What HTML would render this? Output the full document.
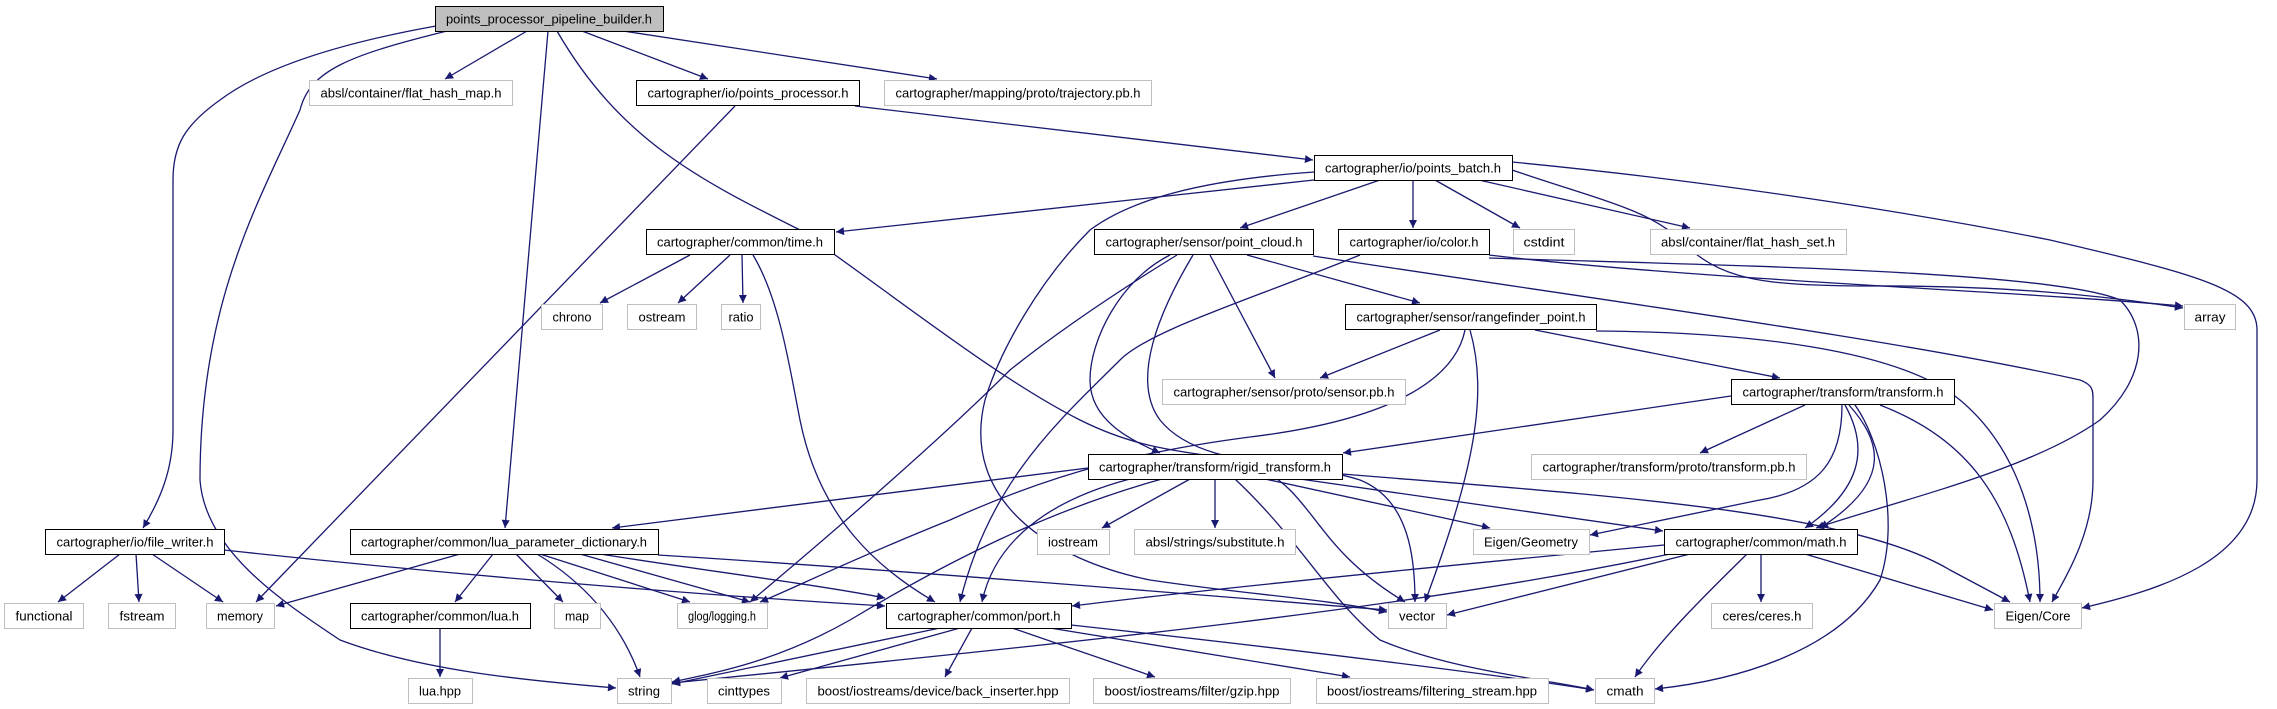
<!DOCTYPE html>
<html><head><meta charset="utf-8"><style>
html,body{margin:0;padding:0;background:#fff;}
svg{display:block;}
text{font-family:"Liberation Sans",sans-serif;font-size:13px;fill:#000;}
.e{fill:none;stroke:#191970;stroke-width:1.3;}
</style></head><body>
<svg width="2277" height="709" viewBox="0 0 2277 709" xmlns="http://www.w3.org/2000/svg">
<defs><marker id="a" viewBox="0 0 10 10" refX="10" refY="5" markerWidth="10" markerHeight="8" markerUnits="userSpaceOnUse" orient="auto"><path d="M0,0 L10,5 L0,10 z" fill="#191970"/></marker></defs>
<g class="e" marker-end="url(#a)">
<path d="M436,26 C330,45 260,70 220,100 C185,125 173,145 173,180 L173,430 C173,470 160,500 143,528"/>
<path d="M447,31 C350,55 310,70 300,110 C260,200 200,300 200,480 C205,550 280,600 340,640 C420,670 520,680 616,688"/>
<path d="M527,31 L445,79"/>
<path d="M548,31 L505,528"/>
<path d="M582,31 L708,79"/>
<path d="M623,31 L937,79"/>
<path d="M557,31 C620,140 700,180 800,230 C900,300 1000,380 1080,420 C1180,470 1240,440 1290,490 C1320,520 1335,560 1405,602"/>
<path d="M735,106 L256,602"/>
<path d="M855,106 L1313,160"/>
<path d="M1314,180 L836,232"/>
<path d="M1380,180 L1240,228"/>
<path d="M1413,180 L1413,228"/>
<path d="M1435,180 L1520,228"/>
<path d="M1470,178 L1690,228"/>
<path d="M1512,170 C1600,200 1650,210 1680,240 C1720,280 1760,285 1860,286 C2000,285 2100,295 2183,308"/>
<path d="M1512,162 C1700,180 1900,210 2050,240 C2200,275 2257,290 2257,330 L2257,480 C2257,560 2160,590 2082,608"/>
<path d="M1314,172 C1200,180 1130,200 1090,230 C1040,280 1000,350 985,400 C960,500 1050,560 1150,580 C1250,595 1320,598 1387,612"/>
<path d="M1177,255 C1120,290 1060,330 1010,370 C930,450 800,560 750,602"/>
<path d="M1170,255 C1120,280 1090,340 1090,380 C1090,420 1130,440 1160,453"/>
<path d="M1210,255 L1275,378"/>
<path d="M1193,255 C1160,310 1130,380 1160,420 C1200,470 1300,460 1360,480 C1410,500 1415,560 1415,602"/>
<path d="M1247,255 L1420,303"/>
<path d="M1313,256 C1600,300 1900,340 2080,380 C2093,385 2093,390 2093,400 L2093,480 C2093,530 2070,570 2052,602"/>
<path d="M1360,255 C1250,300 1150,330 1120,360 C1060,420 990,480 960,602"/>
<path d="M1489,255 C1700,280 2000,290 2183,306"/>
<path d="M1489,258 C1700,265 2050,270 2120,300 C2150,330 2145,380 2100,420 C2030,470 1900,500 1816,528"/>
<path d="M690,255 L600,303"/>
<path d="M730,255 L678,303"/>
<path d="M742,255 L743,303"/>
<path d="M753,255 C780,300 790,370 800,420 C820,520 880,570 935,602"/>
<path d="M1440,330 L1320,378"/>
<path d="M1535,330 L1780,378"/>
<path d="M1596,331 C1750,332 1900,350 1960,400 C2020,450 2040,530 2040,602"/>
<path d="M1470,330 C1490,400 1470,480 1425,602"/>
<path d="M1465,330 C1455,380 1390,420 1250,437 C1150,450 1060,470 950,520 C850,560 790,590 760,602"/>
<path d="M1731,396 L1343,453"/>
<path d="M1805,405 L1700,453"/>
<path d="M1842,405 C1842,460 1820,490 1760,500 C1700,512 1640,525 1590,535"/>
<path d="M1845,405 C1870,450 1860,490 1805,528"/>
<path d="M1849,405 C1880,440 1895,480 1820,528"/>
<path d="M1855,405 C1880,440 1900,520 1880,580 C1840,650 1740,680 1655,689"/>
<path d="M1880,405 C1970,440 2010,500 2030,602"/>
<path d="M1088,468 L612,528"/>
<path d="M1190,479 L1102,528"/>
<path d="M1215,479 L1215,528"/>
<path d="M1265,479 L1490,528"/>
<path d="M1300,479 L1663,531"/>
<path d="M1342,474 C1600,495 1850,510 1950,570 L2010,602"/>
<path d="M1130,479 C1050,500 995,540 982,602"/>
<path d="M1162,479 C1050,510 950,560 850,620 C780,660 720,672 672,682"/>
<path d="M1235,479 C1300,540 1330,600 1380,640 C1450,670 1550,680 1594,690"/>
<path d="M460,554 L276,606"/>
<path d="M493,554 L455,602"/>
<path d="M516,554 L563,602"/>
<path d="M537,554 C580,580 620,620 640,677"/>
<path d="M540,554 L690,602"/>
<path d="M580,554 L750,602"/>
<path d="M600,554 C700,570 820,585 885,598"/>
<path d="M658,555 C900,570 1200,595 1387,610"/>
<path d="M120,554 L58,602"/>
<path d="M136,554 L139,602"/>
<path d="M152,554 L223,602"/>
<path d="M224,550 C500,580 750,598 885,606"/>
<path d="M440,628 L440,677"/>
<path d="M1664,545 C1400,570 1200,590 1072,606"/>
<path d="M1690,554 L1447,615"/>
<path d="M1670,554 C1400,610 1100,640 672,683"/>
<path d="M1761,554 L1761,602"/>
<path d="M1805,554 L1993,610"/>
<path d="M1747,554 C1700,600 1660,640 1635,677"/>
<path d="M940,628 L672,684"/>
<path d="M960,628 L780,678"/>
<path d="M972,628 L945,677"/>
<path d="M1012,628 L1155,677"/>
<path d="M1050,628 L1350,677"/>
<path d="M1071,625 C1300,650 1500,675 1594,690"/>
</g>
<g id="nodes">
<!-- x1,x2,y,type -->
</g>
<script>
var N=[
["points_processor_pipeline_builder.h",435,663,6,2],
["absl/container/flat_hash_map.h",309,512,80,0],
["cartographer/io/points_processor.h",636,859,80,1],
["cartographer/mapping/proto/trajectory.pb.h",884,1151,80,0],
["cartographer/io/points_batch.h",1314,1512,155,1],
["cartographer/common/time.h",646,834,229,1],
["cartographer/sensor/point_cloud.h",1094,1313,229,1],
["cartographer/io/color.h",1338,1489,229,1],
["cstdint",1513,1574,229,0],
["absl/container/flat_hash_set.h",1650,1846,229,0],
["chrono",541,602,304,0],
["ostream",627,696,304,0],
["ratio",721,760,304,0],
["cartographer/sensor/rangefinder_point.h",1345,1596,304,1],
["array",2184,2235,304,0],
["cartographer/sensor/proto/sensor.pb.h",1162,1405,379,0],
["cartographer/transform/transform.h",1731,1954,379,1],
["cartographer/transform/rigid_transform.h",1088,1342,454,1],
["cartographer/transform/proto/transform.pb.h",1531,1806,454,0],
["cartographer/io/file_writer.h",45,224,529,1],
["cartographer/common/lua_parameter_dictionary.h",350,658,529,1],
["iostream",1037,1109,529,0],
["absl/strings/substitute.h",1134,1295,529,0],
["Eigen/Geometry",1473,1589,529,0],
["cartographer/common/math.h",1664,1857,529,1],
["functional",4,83,603,0],
["fstream",108,175,603,0],
["memory",206,274,603,0],
["cartographer/common/lua.h",350,530,603,1],
["map",554,600,603,0],
["glog/logging.h",677,767,603,0],
["cartographer/common/port.h",886,1071,603,1],
["vector",1388,1446,603,0],
["ceres/ceres.h",1711,1812,603,0],
["Eigen/Core",1994,2081,603,0],
["lua.hpp",408,472,678,0],
["string",617,671,678,0],
["cinttypes",707,781,678,0],
["boost/iostreams/device/back_inserter.hpp",806,1069,678,0],
["boost/iostreams/filter/gzip.hpp",1093,1290,678,0],
["boost/iostreams/filtering_stream.hpp",1316,1548,678,0],
["cmath",1595,1654,678,0]];
</script>
<rect x="435.5" y="6.5" width="228" height="25" fill="#bfbfbf" stroke="#000"/><text x="549" y="23.5" text-anchor="middle" textLength="206" lengthAdjust="spacingAndGlyphs">points_processor_pipeline_builder.h</text>
<rect x="309.5" y="80.5" width="203" height="25" fill="#fff" stroke="#bfbfbf"/><text x="411" y="97.5" text-anchor="middle" textLength="181" lengthAdjust="spacingAndGlyphs">absl/container/flat_hash_map.h</text>
<rect x="636.5" y="80.5" width="223" height="25" fill="#fff" stroke="#000"/><text x="748" y="97.5" text-anchor="middle" textLength="201" lengthAdjust="spacingAndGlyphs">cartographer/io/points_processor.h</text>
<rect x="884.5" y="80.5" width="267" height="25" fill="#fff" stroke="#bfbfbf"/><text x="1018" y="97.5" text-anchor="middle" textLength="245" lengthAdjust="spacingAndGlyphs">cartographer/mapping/proto/trajectory.pb.h</text>
<rect x="1314.5" y="155.5" width="198" height="25" fill="#fff" stroke="#000"/><text x="1413" y="172.5" text-anchor="middle" textLength="176" lengthAdjust="spacingAndGlyphs">cartographer/io/points_batch.h</text>
<rect x="646.5" y="229.5" width="188" height="25" fill="#fff" stroke="#000"/><text x="740" y="246.5" text-anchor="middle" textLength="166" lengthAdjust="spacingAndGlyphs">cartographer/common/time.h</text>
<rect x="1094.5" y="229.5" width="219" height="25" fill="#fff" stroke="#000"/><text x="1204" y="246.5" text-anchor="middle" textLength="197" lengthAdjust="spacingAndGlyphs">cartographer/sensor/point_cloud.h</text>
<rect x="1338.5" y="229.5" width="151" height="25" fill="#fff" stroke="#000"/><text x="1414" y="246.5" text-anchor="middle" textLength="129" lengthAdjust="spacingAndGlyphs">cartographer/io/color.h</text>
<rect x="1513.5" y="229.5" width="61" height="25" fill="#fff" stroke="#bfbfbf"/><text x="1544" y="246.5" text-anchor="middle" textLength="41" lengthAdjust="spacingAndGlyphs">cstdint</text>
<rect x="1650.5" y="229.5" width="196" height="25" fill="#fff" stroke="#bfbfbf"/><text x="1748" y="246.5" text-anchor="middle" textLength="174" lengthAdjust="spacingAndGlyphs">absl/container/flat_hash_set.h</text>
<rect x="541.5" y="304.5" width="61" height="25" fill="#fff" stroke="#bfbfbf"/><text x="572" y="321.5" text-anchor="middle" textLength="39" lengthAdjust="spacingAndGlyphs">chrono</text>
<rect x="627.5" y="304.5" width="69" height="25" fill="#fff" stroke="#bfbfbf"/><text x="662" y="321.5" text-anchor="middle" textLength="47" lengthAdjust="spacingAndGlyphs">ostream</text>
<rect x="721.5" y="304.5" width="39" height="25" fill="#fff" stroke="#bfbfbf"/><text x="741" y="321.5" text-anchor="middle" textLength="25" lengthAdjust="spacingAndGlyphs">ratio</text>
<rect x="1345.5" y="304.5" width="251" height="25" fill="#fff" stroke="#000"/><text x="1471" y="321.5" text-anchor="middle" textLength="229" lengthAdjust="spacingAndGlyphs">cartographer/sensor/rangefinder_point.h</text>
<rect x="2184.5" y="304.5" width="51" height="25" fill="#fff" stroke="#bfbfbf"/><text x="2210" y="321.5" text-anchor="middle" textLength="31" lengthAdjust="spacingAndGlyphs">array</text>
<rect x="1162.5" y="379.5" width="243" height="25" fill="#fff" stroke="#bfbfbf"/><text x="1284" y="396.5" text-anchor="middle" textLength="221" lengthAdjust="spacingAndGlyphs">cartographer/sensor/proto/sensor.pb.h</text>
<rect x="1731.5" y="379.5" width="223" height="25" fill="#fff" stroke="#000"/><text x="1843" y="396.5" text-anchor="middle" textLength="201" lengthAdjust="spacingAndGlyphs">cartographer/transform/transform.h</text>
<rect x="1088.5" y="454.5" width="254" height="25" fill="#fff" stroke="#000"/><text x="1215" y="471.5" text-anchor="middle" textLength="232" lengthAdjust="spacingAndGlyphs">cartographer/transform/rigid_transform.h</text>
<rect x="1531.5" y="454.5" width="275" height="25" fill="#fff" stroke="#bfbfbf"/><text x="1669" y="471.5" text-anchor="middle" textLength="253" lengthAdjust="spacingAndGlyphs">cartographer/transform/proto/transform.pb.h</text>
<rect x="45.5" y="529.5" width="179" height="25" fill="#fff" stroke="#000"/><text x="135" y="546.5" text-anchor="middle" textLength="157" lengthAdjust="spacingAndGlyphs">cartographer/io/file_writer.h</text>
<rect x="350.5" y="529.5" width="308" height="25" fill="#fff" stroke="#000"/><text x="504" y="546.5" text-anchor="middle" textLength="286" lengthAdjust="spacingAndGlyphs">cartographer/common/lua_parameter_dictionary.h</text>
<rect x="1037.5" y="529.5" width="72" height="25" fill="#fff" stroke="#bfbfbf"/><text x="1073" y="546.5" text-anchor="middle" textLength="50" lengthAdjust="spacingAndGlyphs">iostream</text>
<rect x="1134.5" y="529.5" width="161" height="25" fill="#fff" stroke="#bfbfbf"/><text x="1215" y="546.5" text-anchor="middle" textLength="139" lengthAdjust="spacingAndGlyphs">absl/strings/substitute.h</text>
<rect x="1473.5" y="529.5" width="116" height="25" fill="#fff" stroke="#bfbfbf"/><text x="1531" y="546.5" text-anchor="middle" textLength="94" lengthAdjust="spacingAndGlyphs">Eigen/Geometry</text>
<rect x="1664.5" y="529.5" width="193" height="25" fill="#fff" stroke="#000"/><text x="1761" y="546.5" text-anchor="middle" textLength="171" lengthAdjust="spacingAndGlyphs">cartographer/common/math.h</text>
<rect x="4.5" y="603.5" width="79" height="25" fill="#fff" stroke="#bfbfbf"/><text x="44" y="620.5" text-anchor="middle" textLength="57" lengthAdjust="spacingAndGlyphs">functional</text>
<rect x="108.5" y="603.5" width="67" height="25" fill="#fff" stroke="#bfbfbf"/><text x="142" y="620.5" text-anchor="middle" textLength="45" lengthAdjust="spacingAndGlyphs">fstream</text>
<rect x="206.5" y="603.5" width="68" height="25" fill="#fff" stroke="#bfbfbf"/><text x="240" y="620.5" text-anchor="middle" textLength="46" lengthAdjust="spacingAndGlyphs">memory</text>
<rect x="350.5" y="603.5" width="180" height="25" fill="#fff" stroke="#000"/><text x="440" y="620.5" text-anchor="middle" textLength="158" lengthAdjust="spacingAndGlyphs">cartographer/common/lua.h</text>
<rect x="554.5" y="603.5" width="46" height="25" fill="#fff" stroke="#bfbfbf"/><text x="577" y="620.5" text-anchor="middle" textLength="24" lengthAdjust="spacingAndGlyphs">map</text>
<rect x="677.5" y="603.5" width="90" height="25" fill="#fff" stroke="#bfbfbf"/><text x="722" y="620.5" text-anchor="middle" textLength="68" lengthAdjust="spacingAndGlyphs">glog/logging.h</text>
<rect x="886.5" y="603.5" width="185" height="25" fill="#fff" stroke="#000"/><text x="979" y="620.5" text-anchor="middle" textLength="163" lengthAdjust="spacingAndGlyphs">cartographer/common/port.h</text>
<rect x="1388.5" y="603.5" width="58" height="25" fill="#fff" stroke="#bfbfbf"/><text x="1417" y="620.5" text-anchor="middle" textLength="36" lengthAdjust="spacingAndGlyphs">vector</text>
<rect x="1711.5" y="603.5" width="101" height="25" fill="#fff" stroke="#bfbfbf"/><text x="1762" y="620.5" text-anchor="middle" textLength="79" lengthAdjust="spacingAndGlyphs">ceres/ceres.h</text>
<rect x="1994.5" y="603.5" width="87" height="25" fill="#fff" stroke="#bfbfbf"/><text x="2038" y="620.5" text-anchor="middle" textLength="65" lengthAdjust="spacingAndGlyphs">Eigen/Core</text>
<rect x="408.5" y="678.5" width="64" height="25" fill="#fff" stroke="#bfbfbf"/><text x="440" y="695.5" text-anchor="middle" textLength="42" lengthAdjust="spacingAndGlyphs">lua.hpp</text>
<rect x="617.5" y="678.5" width="54" height="25" fill="#fff" stroke="#bfbfbf"/><text x="644" y="695.5" text-anchor="middle" textLength="32" lengthAdjust="spacingAndGlyphs">string</text>
<rect x="707.5" y="678.5" width="74" height="25" fill="#fff" stroke="#bfbfbf"/><text x="744" y="695.5" text-anchor="middle" textLength="52" lengthAdjust="spacingAndGlyphs">cinttypes</text>
<rect x="806.5" y="678.5" width="263" height="25" fill="#fff" stroke="#bfbfbf"/><text x="938" y="695.5" text-anchor="middle" textLength="241" lengthAdjust="spacingAndGlyphs">boost/iostreams/device/back_inserter.hpp</text>
<rect x="1093.5" y="678.5" width="197" height="25" fill="#fff" stroke="#bfbfbf"/><text x="1192" y="695.5" text-anchor="middle" textLength="175" lengthAdjust="spacingAndGlyphs">boost/iostreams/filter/gzip.hpp</text>
<rect x="1316.5" y="678.5" width="232" height="25" fill="#fff" stroke="#bfbfbf"/><text x="1432" y="695.5" text-anchor="middle" textLength="210" lengthAdjust="spacingAndGlyphs">boost/iostreams/filtering_stream.hpp</text>
<rect x="1595.5" y="678.5" width="59" height="25" fill="#fff" stroke="#bfbfbf"/><text x="1625" y="695.5" text-anchor="middle" textLength="37" lengthAdjust="spacingAndGlyphs">cmath</text>
</svg>
</body></html>
